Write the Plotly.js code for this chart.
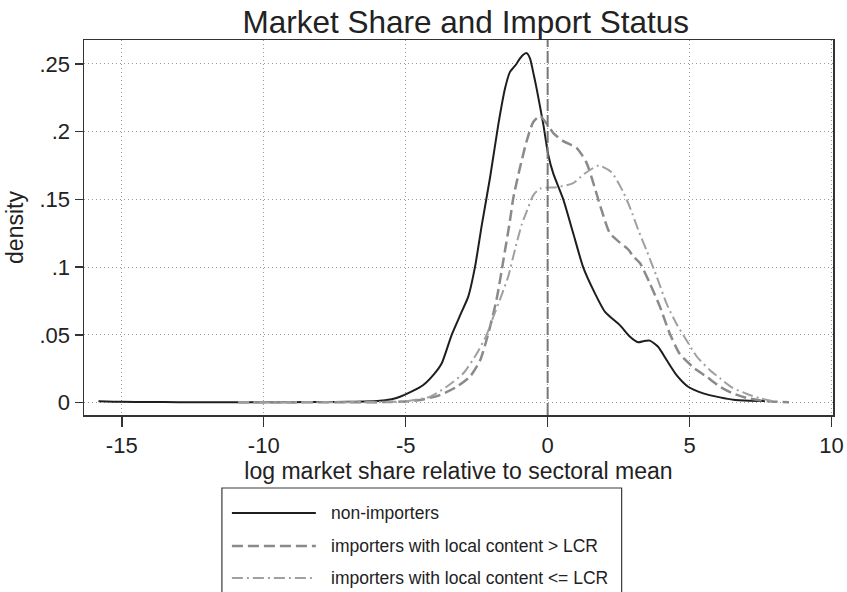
<!DOCTYPE html>
<html>
<head>
<meta charset="utf-8">
<script src="https://cdn.plot.ly/plotly-3.0.1.min.js"></script>
<style>html,body{margin:0;padding:0;background:#fff;}#chart{width:847px;height:592px;}</style>
</head>
<body>
<div id="chart"></div>
<script>
// ---- data ----
const seriesNames = ["non-importers", "importers with local content > LCR", "importers with local content <= LCR"];

const nonImpX = [-15.82,-15,-14,-13,-12,-11,-10,-9,-8,-7,-6.0,-5.5,-5.2,-4.8,-4.38,-4.0,-3.73,-3.38,-3.05,-2.80,-2.56,-2.32,-2.03,-1.74,-1.50,-1.33,-1.10,-0.98,-0.85,-0.74,-0.62,-0.51,-0.39,-0.15,0.02,0.20,0.55,0.90,1.25,1.61,2.02,2.55,2.90,3.19,3.40,3.60,3.89,4.19,4.54,4.95,5.48,6.07,6.54,7.10,7.65];
const nonImpY = [0.0010,0.0005,0.0004,0.0003,0.0003,0.0003,0.0003,0.0003,0.0004,0.0006,0.0012,0.0025,0.0043,0.0080,0.0130,0.0210,0.0290,0.0500,0.0660,0.0780,0.1000,0.1310,0.1660,0.2050,0.2320,0.2440,0.2500,0.2540,0.2570,0.2580,0.2540,0.2440,0.2320,0.2050,0.1830,0.1690,0.1500,0.1250,0.1000,0.0830,0.0670,0.0570,0.0486,0.0445,0.0455,0.0457,0.0412,0.0314,0.0203,0.0117,0.0068,0.0038,0.0020,0.0014,0.0012];

const aboveX = [-10.9,-9,-8,-7,-6,-5.0,-4.5,-3.79,-3.20,-2.74,-2.38,-2.09,-1.80,-1.56,-1.33,-1.21,-0.98,-0.74,-0.51,-0.27,-0.04,0.20,0.55,1.02,1.37,1.61,1.90,2.19,2.55,2.84,3.01,3.25,3.60,3.95,4.30,4.65,5.13,5.60,6.07,6.50,7.00,7.50,8.00,8.50];
const aboveY = [0.0002,0.0002,0.0002,0.0002,0.0003,0.0008,0.0018,0.0055,0.0117,0.0190,0.0310,0.0510,0.0760,0.1050,0.1340,0.1510,0.1730,0.1930,0.2070,0.2116,0.2060,0.1990,0.1930,0.1880,0.1770,0.1620,0.1420,0.1250,0.1180,0.1130,0.1080,0.1030,0.0880,0.0710,0.0510,0.0360,0.0260,0.0190,0.0117,0.0070,0.0035,0.0015,0.0006,0.0003];

const belowX = [-10.9,-9,-8,-7,-6,-5.0,-4.14,-3.56,-2.97,-2.50,-2.15,-1.92,-1.68,-1.39,-1.15,-0.92,-0.74,-0.51,-0.27,0.32,0.90,1.30,1.80,2.25,2.65,2.90,3.20,3.49,3.84,4.19,4.54,4.89,5.25,5.71,6.07,6.50,7.00,7.50,7.90];
const belowY = [0.0002,0.0002,0.0002,0.0002,0.0003,0.0010,0.0043,0.0117,0.0216,0.0360,0.0500,0.0630,0.0760,0.0930,0.1130,0.1310,0.1410,0.1530,0.1580,0.1590,0.1620,0.1690,0.1750,0.1700,0.1560,0.1440,0.1270,0.1120,0.0930,0.0730,0.0580,0.0460,0.0340,0.0240,0.0179,0.0110,0.0065,0.0030,0.0012];

const xTickVals = [-15,-10,-5,0,5,10];
const xTickText = ["-15","-10","-5","0","5","10"];
const yTickVals = [0,0.05,0.1,0.15,0.2,0.25];
const yTickText = ["0",".05",".1",".15",".2",".25"];
const refLineX = 0;

// ---- styling ----
const FONT = "Liberation Sans, Arial, Helvetica, sans-serif";
const styles = [
  {color:"#1e1e1e", width:2, dash:"solid"},
  {color:"#8a8a8a", width:2.5, dash:"11px,5px"},
  {color:"#a0a0a0", width:2, dash:"11px,4px,2px,4px"}
];
const xs = [nonImpX, aboveX, belowX];
const ys = [nonImpY, aboveY, belowY];

const traces = seriesNames.map((n,i)=>({
  type:"scatter", mode:"lines", name:n, x:xs[i], y:ys[i],
  line:{color:styles[i].color, width:styles[i].width, dash:styles[i].dash, shape:"spline", smoothing:0.6},
  showlegend:false, hoverinfo:"skip"
}));

// manual legend (Stata-style box below the plot)
const plotL = 84, plotR = 833.5, plotT = 40, plotB = 415;
const pw = plotR - plotL, ph = plotB - plotT;
const px = v => (v - plotL)/pw;
const py = v => (plotB - v)/ph;
const legendRows = [513, 546, 578];

const shapes = [
  {type:"line", xref:"x", yref:"paper", x0:refLineX, x1:refLineX, y0:0, y1:1,
   line:{color:"#777777", width:2, dash:"12px,4px"}},
  {type:"rect", xref:"paper", yref:"paper", x0:px(222), x1:px(622), y0:py(488), y1:py(610),
   line:{color:"#3a3a3a", width:1.2}, fillcolor:"rgba(0,0,0,0)"}
];
const annotations = [];
seriesNames.forEach((n,i)=>{
  shapes.push({type:"line", xref:"paper", yref:"paper", x0:px(232), x1:px(316), y0:py(legendRows[i]), y1:py(legendRows[i]),
    line:{color:styles[i].color, width:styles[i].width, dash:styles[i].dash}});
  annotations.push({xref:"paper", yref:"paper", x:px(329), y:py(legendRows[i]), xanchor:"left", yanchor:"middle",
    text:n, showarrow:false, font:{family:FONT, size:17.5, color:"#222"}});
});

const axisCommon = {
  showline:true, mirror:true, linecolor:"#333333", linewidth:1.5,
  ticks:"outside", tickcolor:"#333333", tickwidth:1.5,
  showgrid:true, gridcolor:"#9a9a9a", gridwidth:1, griddash:"1px,3px",
  zeroline:false, tickfont:{family:FONT, size:22, color:"#222"}, tickmode:"array"
};

const layout = {
  width:847, height:592,
  margin:{l:plotL, r:847-plotR, t:plotT, b:592-plotB, pad:0},
  paper_bgcolor:"#ffffff", plot_bgcolor:"#ffffff",
  font:{family:FONT, color:"#222"},
  title:{text:"Market Share and Import Status", font:{family:FONT, size:31.5, color:"#222"},
         xref:"paper", x:px(466), xanchor:"center", yref:"container", y:1-22/592, yanchor:"middle"},
  xaxis:Object.assign({}, axisCommon, {range:[-16.33,10.05], tickvals:xTickVals, ticktext:xTickText, ticklen:10,
         title:{text:"log market share relative to sectoral mean", font:{family:FONT, size:23, color:"#222"}, standoff:3}}),
  yaxis:Object.assign({}, axisCommon, {range:[-0.0092,0.2677], tickvals:yTickVals, ticktext:yTickText, ticklen:8,
         title:{text:"density", font:{family:FONT, size:23, color:"#222"}, standoff:9}}),
  shapes:shapes, annotations:annotations, showlegend:false
};

Plotly.newPlot("chart", traces, layout, {displayModeBar:false, staticPlot:true});
</script>
</body>
</html>
